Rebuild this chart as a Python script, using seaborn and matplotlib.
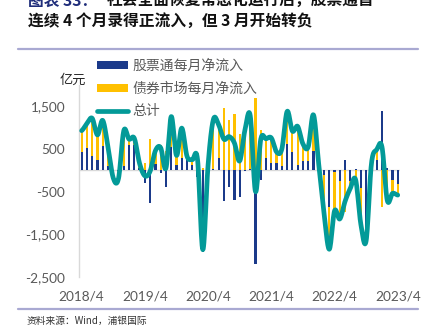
import numpy as np
import pandas as pd
import matplotlib
matplotlib.use("Agg")
import matplotlib.pyplot as plt
import seaborn as sns
from matplotlib.patches import Patch
from matplotlib.lines import Line2D

# ---------------- data ----------------
months = [f"{p.year}/{p.month}" for p in pd.period_range("2018-04", "2023-04", freq="M")]

stock_connect = [430, 530, 340, 250, 580, 90, 10, -10, 110, 600,
                 600, 60, -300, -760, 160, -70, -400, 540, 130, 300,
                 250, 130, -150, -1910, 30, 40, 280, -730, -380, -690,
                 -630, -20, 40, -2200, -220, 290, 170, 170, 90, 620,
                 420, 130, 230, 230, 455, -190, -100, -850, -50, -240,
                 245, -250, 35, -420, -1600, 114, 245, 1400, 50, -220,
                 -330]

bond_market = [500, 570, 880, 580, 590, 470, -190, -180, 820, 130,
               150, 100, 170, 740, 300, 600, 450, 720, 220, 690,
               80, 120, 400, 50, 100, 1150, 790, 1460, 1170, 1330,
               850, 970, 1240, 1700, 950, 450, 590, 260, 410, 760,
               500, 900, 390, 320, 845, 330, -900, -1000, -900, -900,
               -970, -170, -255, -850, -50, 40, 240, -850, -750, -320,
               -250]

tick_labels = ["2018/4", "2019/4", "2020/4", "2021/4", "2022/4", "2023/4"]
y_ticks = [-2500, -1500, -500, 500, 1500]
legend_labels = ["股票通每月净流入", "债券市场每月净流入", "总计"]

title_prefix = "图表 33："
title_line1 = "社会全面恢复常态化运行后，股票通首"
title_line2 = "连续 4 个月录得正流入，但 3 月开始转负"
unit_label = "亿元"
source_text = "资料来源：Wind，浦银国际"

NAVY = "#1B3A8A"
YELLOW = "#FFC000"
TEAL = "#039A98"
GRID = "#D9D9D9"
TXT = "#595959"

# ---------------- helpers ----------------
def smooth_curve(y, n=14):
    """Catmull-Rom style smoothing (like Excel 'smoothed line')."""
    y = np.asarray(y, dtype=float)
    m = len(y)
    xs, ys = [], []
    for i in range(m - 1):
        p0 = y[i - 1] if i > 0 else y[i]
        p1 = y[i]
        p2 = y[i + 1]
        p3 = y[i + 2] if i + 2 < m else y[i + 1]
        t = np.linspace(0, 1, n, endpoint=False)
        seg = 0.5 * ((2 * p1) + (-p0 + p2) * t +
                     (2 * p0 - 5 * p1 + 4 * p2 - p3) * t ** 2 +
                     (-p0 + 3 * p1 - 3 * p2 + p3) * t ** 3)
        xs.extend(i + t)
        ys.extend(seg)
    xs.append(m - 1)
    ys.append(y[-1])
    return np.array(xs), np.array(ys)

# ---------------- frame ----------------
df = pd.DataFrame({"month": months,
                   "pos": np.arange(len(months)),
                   "stock": stock_connect,
                   "bond": bond_market})
df["total"] = df["stock"] + df["bond"]
same = np.sign(df["stock"]) == np.sign(df["bond"])
df["bond_top"] = np.where(same, df["stock"] + df["bond"], df["bond"])

sns.set_theme(style="white")
plt.rcParams["font.family"] = ["Noto Sans CJK SC", "DejaVu Sans"]

W, H = 427, 333
fig = plt.figure(figsize=(W / 100, H / 100), dpi=100)
ax = fig.add_axes([79 / W, 1 - 277 / H, 321.4 / W, 192 / H])

ax.axhline(0, color=GRID, lw=1.0, zorder=0.5)

sns.barplot(data=df, x="pos", y="bond_top", color=YELLOW, saturation=1,
            width=0.42, linewidth=0, ax=ax, zorder=2)
sns.barplot(data=df, x="pos", y="stock", color=NAVY, saturation=1,
            width=0.42, linewidth=0, ax=ax, zorder=3)

xs, ys = smooth_curve(df["total"].values)
sns.lineplot(x=xs, y=ys, color=TEAL, lw=3.4, sort=False, estimator=None,
             ax=ax, zorder=4, solid_capstyle="round")

ax.set_xlim(-0.5, len(months) - 0.5)
ax.set_ylim(-2500, 2000)
ax.set_yticks(y_ticks)
ax.set_yticklabels([f"{v:,}" for v in y_ticks], fontfamily="Lato",
                   fontsize=9.8, color=TXT)
ax.set_xticks([0, 12, 24, 36, 48, 60])
ax.set_xticklabels(tick_labels, fontfamily="Lato", fontsize=9.8, color=TXT)
ax.tick_params(axis="y", length=0, pad=10)
ax.tick_params(axis="x", length=0, pad=10)
ax.set_xlabel("")
ax.set_ylabel("")
for s in ["top", "right", "bottom"]:
    ax.spines[s].set_visible(False)
ax.spines["left"].set_color(GRID)
ax.spines["left"].set_linewidth(1.0)
ax.set_facecolor("none")

# legend
handles = [Patch(facecolor=NAVY, edgecolor="none"),
           Patch(facecolor=YELLOW, edgecolor="none"),
           Line2D([0], [0], color=TEAL, lw=3.4, solid_capstyle="round")]
leg = fig.legend(handles, legend_labels, loc="upper left",
                 bbox_to_anchor=(97 / W, 1 - 59 / H), frameon=False,
                 handlelength=2.2, handleheight=0.55, handletextpad=0.35,
                 labelspacing=0.62, borderaxespad=0, borderpad=0,
                 prop={"family": ["Noto Sans CJK SC", "DejaVu Sans"],
                       "size": 10, "weight": "light"})
for t in leg.get_texts():
    t.set_color(TXT)

# texts
fig.text(60 / W, 1 - 80 / H, unit_label, fontsize=9.5, color="#262626",
         va="center", ha="left")
fig.text(28 / W, 1 - 0.5 / H, title_prefix, fontsize=11.3, color="#1F2D7A",
         weight="bold", va="center", ha="left")
fig.text(107 / W, 1 - 0.5 / H, title_line1, fontsize=11.3, color="#111111",
         weight="bold", va="center", ha="left")
fig.text(28 / W, 1 - 20.5 / H, title_line2, fontsize=11.3, color="#111111",
         weight="bold", va="center", ha="left")
fig.text(27 / W, 1 - 321 / H, source_text, fontsize=7, color="#333333",
         va="center", ha="left")

# separator rules
for yy in (48.5, 309):
    fig.add_artist(Line2D([18 / W, 418 / W], [1 - yy / H, 1 - yy / H],
                          color="#A9A9D2", lw=1.6, transform=fig.transFigure))

fig.savefig("out.png", dpi=100)
